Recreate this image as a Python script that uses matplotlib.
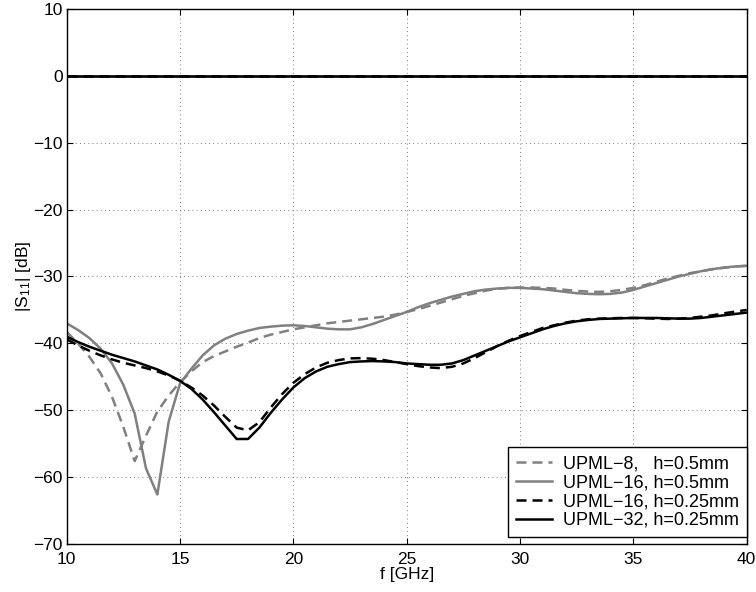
import matplotlib
matplotlib.use('Agg')
import matplotlib.pyplot as plt
import numpy as np

plt.rcParams['font.family'] = ['Liberation Sans', 'DejaVu Sans']
plt.rcParams['mathtext.fontset'] = 'custom'
plt.rcParams['mathtext.rm'] = 'Liberation Sans'
plt.rcParams['mathtext.it'] = 'Liberation Sans'

# frequency samples (GHz), 0.5 GHz step
freq = np.arange(10, 40.5, 0.5)

# |S11| [dB]
upml8_h05 = [-38.3, -40.0, -42.0, -44.5, -48.0, -52.5, -57.6, -53.8, -50.2, -47.8,
             -45.8, -44.2, -42.8, -41.9, -41.2, -40.5, -39.9, -39.2, -38.7, -38.3,
             -37.9, -37.6, -37.3, -37.0, -36.8, -36.6, -36.4, -36.2, -36.0, -35.7,
             -35.3, -34.9, -34.4, -33.9, -33.4, -32.9, -32.5, -32.1, -31.85, -31.7,
             -31.65, -31.65, -31.7, -31.8, -32.0, -32.15, -32.25, -32.3, -32.2, -32.0,
             -31.7, -31.3, -30.8, -30.3, -29.9, -29.5, -29.2, -28.9, -28.7, -28.5,
             -28.4]
upml16_h05 = [-37.0, -38.0, -39.2, -40.8, -43.0, -46.2, -50.5, -58.7, -62.6, -51.7,
              -46.0, -43.8, -41.8, -40.3, -39.3, -38.6, -38.1, -37.7, -37.5, -37.35,
              -37.3, -37.4, -37.6, -37.8, -37.9, -37.9, -37.6, -37.1, -36.5, -35.9,
              -35.3, -34.6, -34.0, -33.5, -33.0, -32.6, -32.2, -31.95, -31.8, -31.7,
              -31.7, -31.8, -31.9, -32.1, -32.3, -32.5, -32.6, -32.65, -32.6, -32.4,
              -32.0, -31.5, -31.0, -30.5, -30.0, -29.6, -29.2, -28.9, -28.65, -28.5,
              -28.4]
upml16_h025 = [-39.4, -40.3, -41.1, -41.8, -42.4, -42.9, -43.3, -43.7, -44.2, -44.8,
               -45.6, -46.6, -47.8, -49.3, -51.0, -52.6, -53.0, -51.8, -49.6, -47.6,
               -45.9, -44.6, -43.6, -42.9, -42.5, -42.25, -42.2, -42.3, -42.5, -42.8,
               -43.1, -43.4, -43.6, -43.7, -43.5, -43.0, -42.2, -41.3, -40.4, -39.6,
               -38.9, -38.3, -37.7, -37.3, -36.9, -36.6, -36.4, -36.3, -36.25, -36.2,
               -36.2, -36.25, -36.3, -36.35, -36.3, -36.2, -36.0, -35.8, -35.5, -35.25,
               -35.0]
upml32_h025 = [-39.0, -39.8, -40.5, -41.1, -41.7, -42.2, -42.7, -43.3, -43.9, -44.7,
               -45.6, -46.8, -48.4, -50.3, -52.3, -54.3, -54.3, -52.6, -50.4, -48.4,
               -46.6, -45.2, -44.2, -43.5, -43.1, -42.8, -42.7, -42.65, -42.7, -42.8,
               -43.0, -43.1, -43.2, -43.2, -43.0, -42.5, -41.8, -41.1, -40.4, -39.7,
               -39.1, -38.5, -37.9, -37.4, -37.0, -36.7, -36.5, -36.35, -36.3, -36.25,
               -36.2, -36.2, -36.2, -36.25, -36.3, -36.3, -36.2, -36.0, -35.8, -35.6,
               -35.4]

# |S21| stays at 0 dB for every case
s21_freq = [10, 40]
s21_db = [0.0, 0.0]

labels = ['UPML\u22128,   h=0.5mm', 'UPML\u221216, h=0.5mm',
          'UPML\u221216, h=0.25mm', 'UPML\u221232, h=0.25mm']

grey = '#808080'
styles = [dict(color=grey, dashes=(4, 2.4)),
          dict(color=grey),
          dict(color='k', dashes=(4, 2.4)),
          dict(color='k')]
series = [upml8_h05, upml16_h05, upml16_h025, upml32_h025]

fig = plt.figure(figsize=(7.56, 5.92), dpi=100)
ax = fig.add_axes([0.0882, 0.0811, 0.8995, 0.9037])

for s in styles:
    ax.plot(s21_freq, s21_db, lw=1.8, **s)
for data, lab, s in zip(series, labels, styles):
    ax.plot(freq, data, lw=1.8, label=lab, **s)

ax.set_xlim(10, 40)
ax.set_ylim(-70, 10)
ax.set_xticks(np.arange(10, 41, 5))
ax.set_yticks(np.arange(-70, 11, 10))
ax.grid(True, color='#555555', linestyle=(0, (1, 4)), linewidth=0.6)
ax.tick_params(direction='in', length=4, width=0.8, top=True, right=True,
               labelsize=12.5)
ax.tick_params(axis='x', pad=6)
ax.tick_params(axis='y', pad=3)
for sp in ax.spines.values():
    sp.set_linewidth(1.0)

ax.set_xlabel('f [GHz]', fontsize=12.5, labelpad=0)
ax.set_ylabel(r'|S$_{11}$| [dB]', fontsize=12.5, labelpad=0)

leg = ax.legend(loc='lower right', bbox_to_anchor=(1.0, 0.013), borderaxespad=0,
                fancybox=False, framealpha=1, edgecolor='k', fontsize=13,
                handlelength=2.0, handletextpad=0.6, labelspacing=0.1,
                borderpad=0.45)
leg.get_frame().set_linewidth(1.0)

fig.savefig('out.png', dpi=100)
